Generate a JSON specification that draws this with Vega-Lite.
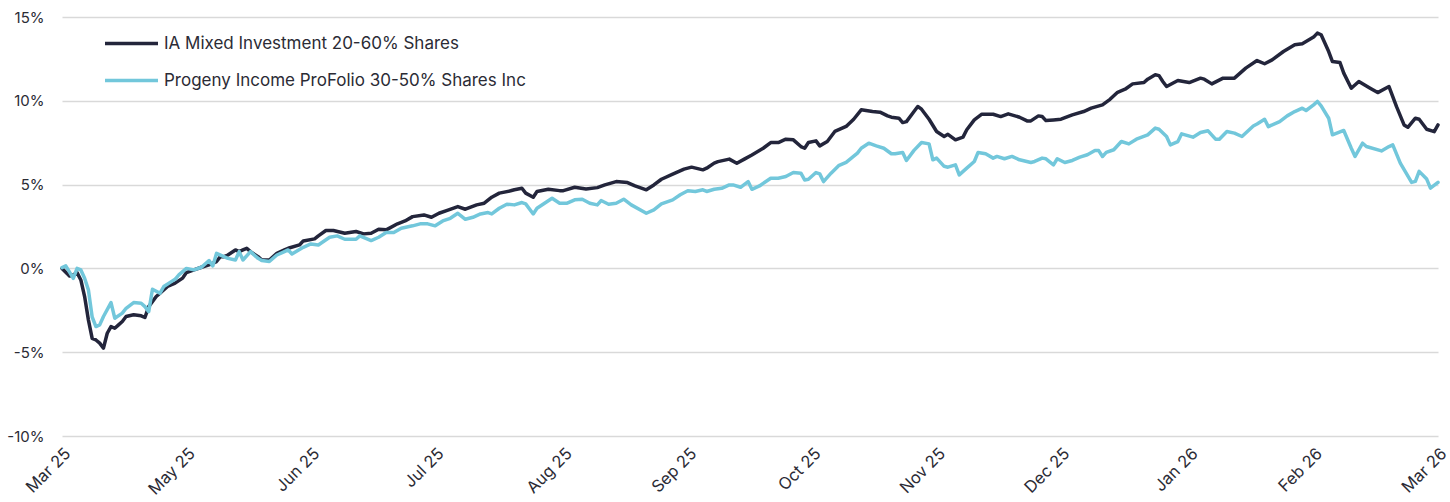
{
  "$schema": "https://vega.github.io/schema/vega-lite/v6.json",
  "width": 1376,
  "height": 419,
  "autosize": {"type": "none"},
  "padding": {"left": 62, "top": 17, "right": 12, "bottom": 66},
  "background": "white",
  "config": {
    "view": {"stroke": null},
    "font": "Inter",
    "axis": {"labelFont": "Inter", "labelFontSize": 15, "labelColor": "#2b2b35", "domain": false, "ticks": false, "title": null},
    "legend": {"labelFont": "Inter", "labelFontSize": 17, "labelColor": "#2b2b35", "labelLimit": 0}
  },
  "datasets": {
    "ia": [
      {"d":"2025-03-31","v":0},{"d":"2025-04-02","v":-0.45},{"d":"2025-04-03","v":-0.39},{"d":"2025-04-04","v":-0.25},{"d":"2025-04-05","v":-0.69},{"d":"2025-04-06","v":-1.68},{"d":"2025-04-07","v":-3.07},{"d":"2025-04-08","v":-4.17},{"d":"2025-04-09","v":-4.27},{"d":"2025-04-10","v":-4.46},{"d":"2025-04-11","v":-4.76},{"d":"2025-04-12","v":-3.87},{"d":"2025-04-13","v":-3.47},{"d":"2025-04-14","v":-3.57},{"d":"2025-04-15","v":-3.37},{"d":"2025-04-16","v":-3.17},{"d":"2025-04-17","v":-2.87},{"d":"2025-04-19","v":-2.77},{"d":"2025-04-21","v":-2.83},{"d":"2025-04-22","v":-2.93},{"d":"2025-04-23","v":-2.28},{"d":"2025-04-25","v":-1.68},{"d":"2025-04-26","v":-1.48},{"d":"2025-04-28","v":-1.08},{"d":"2025-04-30","v":-0.88},
      {"d":"2025-05-02","v":-0.58},{"d":"2025-05-03","v":-0.25},{"d":"2025-05-05","v":-0.09},{"d":"2025-05-07","v":0.07},{"d":"2025-05-09","v":0.21},{"d":"2025-05-11","v":0.41},{"d":"2025-05-12","v":0.7},{"d":"2025-05-13","v":0.7},{"d":"2025-05-14","v":0.8},{"d":"2025-05-16","v":1.1},{"d":"2025-05-17","v":1.0},{"d":"2025-05-18","v":1.1},{"d":"2025-05-19","v":1.2},{"d":"2025-05-20","v":1.0},{"d":"2025-05-22","v":0.7},{"d":"2025-05-23","v":0.5},{"d":"2025-05-25","v":0.5},{"d":"2025-05-27","v":0.9},{"d":"2025-05-29","v":1.1},{"d":"2025-05-30","v":1.2},
      {"d":"2025-06-02","v":1.4},{"d":"2025-06-03","v":1.64},{"d":"2025-06-06","v":1.76},{"d":"2025-06-07","v":1.94},{"d":"2025-06-09","v":2.26},{"d":"2025-06-11","v":2.26},{"d":"2025-06-14","v":2.1},{"d":"2025-06-17","v":2.2},{"d":"2025-06-19","v":2.06},{"d":"2025-06-21","v":2.1},{"d":"2025-06-23","v":2.34},{"d":"2025-06-25","v":2.3},{"d":"2025-06-28","v":2.66},{"d":"2025-06-30","v":2.83},
      {"d":"2025-07-02","v":3.09},{"d":"2025-07-05","v":3.19},{"d":"2025-07-07","v":3.05},{"d":"2025-07-09","v":3.29},{"d":"2025-07-11","v":3.45},{"d":"2025-07-14","v":3.69},{"d":"2025-07-16","v":3.53},{"d":"2025-07-19","v":3.79},{"d":"2025-07-21","v":3.89},{"d":"2025-07-23","v":4.25},{"d":"2025-07-25","v":4.49},{"d":"2025-07-28","v":4.63},{"d":"2025-07-29","v":4.69},{"d":"2025-07-31","v":4.78},
      {"d":"2025-08-01","v":4.49},{"d":"2025-08-03","v":4.25},{"d":"2025-08-04","v":4.59},{"d":"2025-08-07","v":4.72},{"d":"2025-08-10","v":4.64},{"d":"2025-08-11","v":4.64},{"d":"2025-08-14","v":4.84},{"d":"2025-08-17","v":4.74},{"d":"2025-08-20","v":4.82},{"d":"2025-08-22","v":4.98},{"d":"2025-08-25","v":5.18},{"d":"2025-08-28","v":5.12},{"d":"2025-08-30","v":4.92},
      {"d":"2025-09-02","v":4.69},{"d":"2025-09-04","v":4.98},{"d":"2025-09-06","v":5.32},{"d":"2025-09-09","v":5.62},{"d":"2025-09-12","v":5.92},{"d":"2025-09-14","v":6.04},{"d":"2025-09-17","v":5.88},{"d":"2025-09-18","v":5.98},{"d":"2025-09-20","v":6.28},{"d":"2025-09-21","v":6.37},{"d":"2025-09-24","v":6.52},{"d":"2025-09-26","v":6.27},{"d":"2025-09-28","v":6.52},{"d":"2025-09-30","v":6.77},
      {"d":"2025-10-03","v":7.17},{"d":"2025-10-05","v":7.51},{"d":"2025-10-07","v":7.51},{"d":"2025-10-09","v":7.71},{"d":"2025-10-11","v":7.67},{"d":"2025-10-13","v":7.27},{"d":"2025-10-14","v":7.17},{"d":"2025-10-15","v":7.51},{"d":"2025-10-17","v":7.61},{"d":"2025-10-18","v":7.31},{"d":"2025-10-20","v":7.57},{"d":"2025-10-22","v":8.17},{"d":"2025-10-25","v":8.47},{"d":"2025-10-27","v":8.9},{"d":"2025-10-29","v":9.46},
      {"d":"2025-11-01","v":9.36},{"d":"2025-11-03","v":9.32},{"d":"2025-11-05","v":9.1},{"d":"2025-11-06","v":9.02},{"d":"2025-11-08","v":8.96},{"d":"2025-11-09","v":8.7},{"d":"2025-11-10","v":8.76},{"d":"2025-11-12","v":9.36},{"d":"2025-11-13","v":9.66},{"d":"2025-11-14","v":9.5},{"d":"2025-11-16","v":8.9},{"d":"2025-11-18","v":8.17},{"d":"2025-11-20","v":7.87},{"d":"2025-11-21","v":8.0},{"d":"2025-11-23","v":7.67},{"d":"2025-11-25","v":7.83},{"d":"2025-11-26","v":8.27},{"d":"2025-11-28","v":8.86},{"d":"2025-11-30","v":9.2},
      {"d":"2025-12-03","v":9.2},{"d":"2025-12-05","v":9.06},{"d":"2025-12-07","v":9.22},{"d":"2025-12-10","v":9.02},{"d":"2025-12-12","v":8.8},{"d":"2025-12-13","v":8.8},{"d":"2025-12-15","v":9.1},{"d":"2025-12-16","v":9.06},{"d":"2025-12-17","v":8.82},{"d":"2025-12-19","v":8.86},{"d":"2025-12-21","v":8.9},{"d":"2025-12-24","v":9.16},{"d":"2025-12-27","v":9.36},{"d":"2025-12-29","v":9.56},
      {"d":"2026-01-01","v":9.76},{"d":"2026-01-03","v":10.09},{"d":"2026-01-05","v":10.51},{"d":"2026-01-07","v":10.69},{"d":"2026-01-09","v":11.01},{"d":"2026-01-12","v":11.09},{"d":"2026-01-13","v":11.29},{"d":"2026-01-15","v":11.55},{"d":"2026-01-16","v":11.5},{"d":"2026-01-17","v":11.15},{"d":"2026-01-18","v":10.85},{"d":"2026-01-21","v":11.21},{"d":"2026-01-24","v":11.09},{"d":"2026-01-27","v":11.35},{"d":"2026-01-28","v":11.29},{"d":"2026-01-30","v":11.01},
      {"d":"2026-02-02","v":11.35},{"d":"2026-02-05","v":11.35},{"d":"2026-02-08","v":11.95},{"d":"2026-02-11","v":12.4},{"d":"2026-02-13","v":12.21},{"d":"2026-02-15","v":12.44},{"d":"2026-02-18","v":12.94},{"d":"2026-02-21","v":13.34},{"d":"2026-02-23","v":13.4},{"d":"2026-02-26","v":13.8},{"d":"2026-02-27","v":14.04},{"d":"2026-02-28","v":13.94},
      {"d":"2026-03-02","v":12.94},{"d":"2026-03-03","v":12.34},{"d":"2026-03-05","v":12.28},{"d":"2026-03-06","v":11.65},{"d":"2026-03-08","v":10.75},{"d":"2026-03-10","v":11.15},{"d":"2026-03-13","v":10.75},{"d":"2026-03-15","v":10.49},{"d":"2026-03-18","v":10.85},{"d":"2026-03-20","v":9.65},{"d":"2026-03-22","v":8.56},{"d":"2026-03-23","v":8.42},{"d":"2026-03-25","v":8.96},{"d":"2026-03-26","v":8.9},{"d":"2026-03-28","v":8.3},{"d":"2026-03-30","v":8.16},{"d":"2026-03-31","v":8.56}
    ],
    "pi": [
      {"d":"2025-03-31","v":0.05},{"d":"2025-04-01","v":0.15},{"d":"2025-04-03","v":-0.59},{"d":"2025-04-04","v":0.0},{"d":"2025-04-05","v":-0.09},{"d":"2025-04-06","v":-0.59},{"d":"2025-04-07","v":-1.28},{"d":"2025-04-08","v":-2.9},{"d":"2025-04-09","v":-3.47},{"d":"2025-04-10","v":-3.37},{"d":"2025-04-11","v":-2.87},{"d":"2025-04-13","v":-2.04},{"d":"2025-04-14","v":-2.97},{"d":"2025-04-16","v":-2.67},{"d":"2025-04-17","v":-2.38},{"d":"2025-04-19","v":-2.04},{"d":"2025-04-21","v":-2.08},{"d":"2025-04-22","v":-2.28},{"d":"2025-04-23","v":-2.58},{"d":"2025-04-24","v":-1.24},{"d":"2025-04-26","v":-1.48},{"d":"2025-04-27","v":-1.08},{"d":"2025-04-29","v":-0.79},{"d":"2025-04-30","v":-0.65},
      {"d":"2025-05-01","v":-0.39},{"d":"2025-05-03","v":0.0},{"d":"2025-05-05","v":-0.09},{"d":"2025-05-07","v":0.07},{"d":"2025-05-09","v":0.47},{"d":"2025-05-10","v":0.15},{"d":"2025-05-11","v":0.9},{"d":"2025-05-14","v":0.6},{"d":"2025-05-16","v":0.5},{"d":"2025-05-17","v":1.0},{"d":"2025-05-18","v":0.5},{"d":"2025-05-20","v":1.0},{"d":"2025-05-22","v":0.6},{"d":"2025-05-23","v":0.47},{"d":"2025-05-25","v":0.41},{"d":"2025-05-27","v":0.8},{"d":"2025-05-29","v":1.0},{"d":"2025-05-30","v":1.1},{"d":"2025-05-31","v":0.86},
      {"d":"2025-06-03","v":1.26},{"d":"2025-06-05","v":1.46},{"d":"2025-06-07","v":1.4},{"d":"2025-06-10","v":1.86},{"d":"2025-06-12","v":1.94},{"d":"2025-06-14","v":1.74},{"d":"2025-06-17","v":1.74},{"d":"2025-06-18","v":1.94},{"d":"2025-06-21","v":1.66},{"d":"2025-06-23","v":1.86},{"d":"2025-06-25","v":2.14},{"d":"2025-06-27","v":2.14},{"d":"2025-06-29","v":2.4},
      {"d":"2025-07-02","v":2.54},{"d":"2025-07-04","v":2.66},{"d":"2025-07-06","v":2.66},{"d":"2025-07-08","v":2.54},{"d":"2025-07-10","v":2.83},{"d":"2025-07-12","v":2.99},{"d":"2025-07-14","v":3.29},{"d":"2025-07-16","v":2.93},{"d":"2025-07-18","v":3.05},{"d":"2025-07-20","v":3.25},{"d":"2025-07-22","v":3.33},{"d":"2025-07-23","v":3.25},{"d":"2025-07-25","v":3.59},{"d":"2025-07-27","v":3.83},{"d":"2025-07-29","v":3.79},{"d":"2025-07-31","v":3.93},
      {"d":"2025-08-01","v":3.85},{"d":"2025-08-03","v":3.25},{"d":"2025-08-04","v":3.59},{"d":"2025-08-06","v":3.89},{"d":"2025-08-08","v":4.19},{"d":"2025-08-10","v":3.89},{"d":"2025-08-12","v":3.89},{"d":"2025-08-14","v":4.09},{"d":"2025-08-16","v":4.13},{"d":"2025-08-18","v":3.89},{"d":"2025-08-20","v":3.79},{"d":"2025-08-21","v":4.05},{"d":"2025-08-23","v":3.83},{"d":"2025-08-25","v":3.89},{"d":"2025-08-27","v":4.13},{"d":"2025-08-29","v":3.79},
      {"d":"2025-09-02","v":3.29},{"d":"2025-09-04","v":3.49},{"d":"2025-09-06","v":3.85},{"d":"2025-09-09","v":4.09},{"d":"2025-09-11","v":4.39},{"d":"2025-09-13","v":4.63},{"d":"2025-09-15","v":4.59},{"d":"2025-09-17","v":4.69},{"d":"2025-09-18","v":4.59},{"d":"2025-09-20","v":4.72},{"d":"2025-09-22","v":4.78},{"d":"2025-09-24","v":4.98},{"d":"2025-09-25","v":4.98},{"d":"2025-09-27","v":4.84},{"d":"2025-09-29","v":5.18},{"d":"2025-09-30","v":4.72},
      {"d":"2025-10-02","v":4.92},{"d":"2025-10-05","v":5.38},{"d":"2025-10-07","v":5.38},{"d":"2025-10-09","v":5.48},{"d":"2025-10-11","v":5.72},{"d":"2025-10-13","v":5.68},{"d":"2025-10-14","v":5.28},{"d":"2025-10-15","v":5.32},{"d":"2025-10-17","v":5.72},{"d":"2025-10-18","v":5.64},{"d":"2025-10-19","v":5.18},{"d":"2025-10-21","v":5.68},{"d":"2025-10-23","v":6.13},{"d":"2025-10-25","v":6.33},{"d":"2025-10-28","v":6.88},{"d":"2025-10-29","v":7.17},{"d":"2025-10-31","v":7.47},
      {"d":"2025-11-02","v":7.31},{"d":"2025-11-04","v":7.17},{"d":"2025-11-06","v":6.84},{"d":"2025-11-07","v":6.84},{"d":"2025-11-09","v":6.92},{"d":"2025-11-10","v":6.44},{"d":"2025-11-12","v":7.04},{"d":"2025-11-14","v":7.51},{"d":"2025-11-16","v":7.43},{"d":"2025-11-17","v":6.48},{"d":"2025-11-18","v":6.58},{"d":"2025-11-20","v":6.09},{"d":"2025-11-21","v":6.04},{"d":"2025-11-23","v":6.18},{"d":"2025-11-24","v":5.58},{"d":"2025-11-26","v":5.98},{"d":"2025-11-28","v":6.38},{"d":"2025-11-29","v":6.92},
      {"d":"2025-12-01","v":6.84},{"d":"2025-12-03","v":6.58},{"d":"2025-12-04","v":6.68},{"d":"2025-12-06","v":6.54},{"d":"2025-12-08","v":6.68},{"d":"2025-12-10","v":6.48},{"d":"2025-12-13","v":6.32},{"d":"2025-12-14","v":6.38},{"d":"2025-12-16","v":6.58},{"d":"2025-12-17","v":6.54},{"d":"2025-12-19","v":6.18},{"d":"2025-12-20","v":6.54},{"d":"2025-12-22","v":6.32},{"d":"2025-12-24","v":6.44},{"d":"2025-12-26","v":6.64},{"d":"2025-12-28","v":6.78},{"d":"2025-12-30","v":7.03},{"d":"2025-12-31","v":7.03},
      {"d":"2026-01-01","v":6.68},{"d":"2026-01-02","v":6.92},{"d":"2026-01-04","v":7.08},{"d":"2026-01-06","v":7.57},{"d":"2026-01-08","v":7.43},{"d":"2026-01-10","v":7.71},{"d":"2026-01-13","v":7.97},{"d":"2026-01-15","v":8.37},{"d":"2026-01-16","v":8.3},{"d":"2026-01-18","v":7.87},{"d":"2026-01-19","v":7.37},{"d":"2026-01-21","v":7.57},{"d":"2026-01-22","v":8.03},{"d":"2026-01-25","v":7.83},{"d":"2026-01-27","v":8.11},{"d":"2026-01-29","v":8.21},{"d":"2026-01-31","v":7.71},
      {"d":"2026-02-01","v":7.71},{"d":"2026-02-03","v":8.17},{"d":"2026-02-05","v":8.07},{"d":"2026-02-07","v":7.87},{"d":"2026-02-10","v":8.5},{"d":"2026-02-11","v":8.62},{"d":"2026-02-13","v":8.9},{"d":"2026-02-14","v":8.46},{"d":"2026-02-17","v":8.76},{"d":"2026-02-19","v":9.1},{"d":"2026-02-21","v":9.36},{"d":"2026-02-23","v":9.56},{"d":"2026-02-24","v":9.42},{"d":"2026-02-26","v":9.76},{"d":"2026-02-27","v":9.96},{"d":"2026-02-28","v":9.7},
      {"d":"2026-03-02","v":8.96},{"d":"2026-03-03","v":7.97},{"d":"2026-03-06","v":8.23},{"d":"2026-03-08","v":7.17},{"d":"2026-03-09","v":6.68},{"d":"2026-03-11","v":7.47},{"d":"2026-03-12","v":7.27},{"d":"2026-03-16","v":7.01},{"d":"2026-03-18","v":7.27},{"d":"2026-03-19","v":7.37},{"d":"2026-03-21","v":6.28},{"d":"2026-03-24","v":5.13},{"d":"2026-03-25","v":5.19},{"d":"2026-03-26","v":5.79},{"d":"2026-03-28","v":5.33},{"d":"2026-03-29","v":4.79},{"d":"2026-03-31","v":5.13}
    ]
  },
  "encoding": {
    "x": {
      "field": "d",
      "type": "temporal",
      "scale": {"type": "utc", "domain": [{"year": 2025, "month": 3, "date": 31, "utc": true}, {"year": 2026, "month": 3, "date": 31, "utc": true}]},
      "axis": {
        "grid": false,
        "values": [
          {"year": 2025, "month": 3, "date": 31, "utc": true},
          {"year": 2025, "month": 5, "date": 3, "utc": true},
          {"year": 2025, "month": 6, "date": 5, "utc": true},
          {"year": 2025, "month": 7, "date": 8, "utc": true},
          {"year": 2025, "month": 8, "date": 11, "utc": true},
          {"year": 2025, "month": 9, "date": 13, "utc": true},
          {"year": 2025, "month": 10, "date": 16, "utc": true},
          {"year": 2025, "month": 11, "date": 18, "utc": true},
          {"year": 2025, "month": 12, "date": 21, "utc": true},
          {"year": 2026, "month": 1, "date": 24, "utc": true},
          {"year": 2026, "month": 2, "date": 26, "utc": true},
          {"year": 2026, "month": 3, "date": 31, "utc": true}
        ],
        "labelExpr": "utcFormat(datum.value, '%b %y')",
        "labelAngle": -45,
        "labelAlign": "right",
        "labelBaseline": "top",
        "labelPadding": 9,
        "labelFontSize": 16.5,
        "labelOverlap": false,
        "labelBound": false,
        "labelFlush": false
      }
    },
    "y": {
      "field": "v",
      "type": "quantitative",
      "scale": {"domain": [-10, 15], "nice": false, "zero": false},
      "axis": {
        "values": [-10, -5, 0, 5, 10, 15],
        "labelExpr": "datum.value + '%'",
        "grid": true,
        "gridColor": "#d9d9d9",
        "gridWidth": 1.6,
        "labelPadding": 18
      }
    }
  },
  "layer": [
    {
      "data": {"name": "ia"},
      "mark": {"type": "line", "strokeWidth": 3.5, "strokeJoin": "round", "strokeCap": "round"},
      "encoding": {
        "color": {
          "datum": "IA Mixed Investment 20-60% Shares",
          "scale": {"domain": ["IA Mixed Investment 20-60% Shares", "Progeny Income ProFolio 30-50% Shares Inc"], "range": ["#23253b", "#72c7db"]},
          "legend": {
            "title": null,
            "orient": "none",
            "legendX": 41,
            "legendY": -2,
            "padding": 0,
            "symbolType": "stroke",
            "symbolSize": 2809,
            "symbolStrokeWidth": 3.5,
            "labelOffset": 4,
            "rowPadding": -16,
            "labelFontSize": 17,
            "labelLimit": 0,
            "labelColor": "#2b2b35"
          }
        }
      }
    },
    {
      "data": {"name": "pi"},
      "mark": {"type": "line", "strokeWidth": 3.5, "strokeJoin": "round", "strokeCap": "round"},
      "encoding": {
        "color": {"datum": "Progeny Income ProFolio 30-50% Shares Inc"}
      }
    }
  ]
}
